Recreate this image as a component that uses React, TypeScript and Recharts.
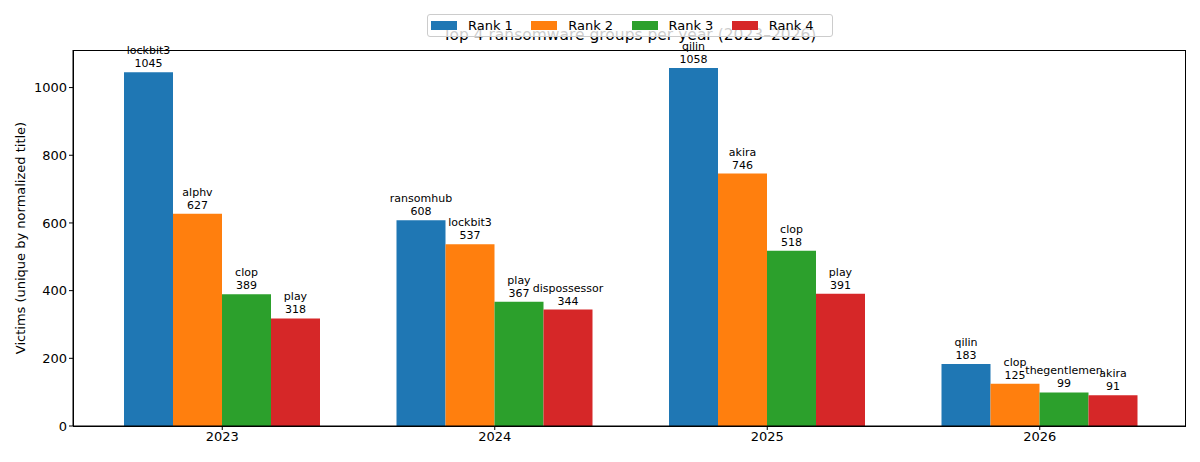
import React from "react";
import { Bar, BarChart, LabelList, XAxis, YAxis } from "recharts";

const years = ["2023", "2024", "2025", "2026"];
const rank1Names = ["lockbit3", "ransomhub", "qilin", "qilin"];
const rank1Values = [1045, 608, 1058, 183];
const rank2Names = ["alphv", "lockbit3", "akira", "clop"];
const rank2Values = [627, 537, 746, 125];
const rank3Names = ["clop", "play", "clop", "thegentlemen"];
const rank3Values = [389, 367, 518, 99];
const rank4Names = ["play", "dispossessor", "play", "akira"];
const rank4Values = [318, 344, 391, 91];
const yTicks = [0, 200, 400, 600, 800, 1000];

const FONT = "DejaVu Sans, sans-serif";

const ranks = [
  { key: "r1", label: "Rank 1", color: "#1f77b4", names: rank1Names, values: rank1Values },
  { key: "r2", label: "Rank 2", color: "#ff7f0e", names: rank2Names, values: rank2Values },
  { key: "r3", label: "Rank 3", color: "#2ca02c", names: rank3Names, values: rank3Values },
  { key: "r4", label: "Rank 4", color: "#d62728", names: rank4Names, values: rank4Values },
];

const data = years.map((year, i) => {
  const row: Record<string, string | number> = { year };
  ranks.forEach((r) => {
    row[r.key] = r.values[i];
  });
  return row;
});

// two-line label above each bar: group name, then count
const makeLabel = (names: string[]) => (props: any) => {
  const { x, y, width, value, index } = props;
  const cx = Number(x) + Number(width) / 2;
  return (
    <g>
      <text x={cx} y={Number(y) - 18} textAnchor="middle" fontSize={11} fill="#000" fontFamily={FONT}>
        {names[index]}
      </text>
      <text x={cx} y={Number(y) - 5} textAnchor="middle" fontSize={11} fill="#000" fontFamily={FONT}>
        {value}
      </text>
    </g>
  );
};

export default function App() {
  return (
    <div style={{ position: "absolute", left: 0, top: 0, width: 1200, height: 462, background: "#fff", fontFamily: FONT }}>
      <BarChart
        width={1200}
        height={462}
        data={data}
        margin={{ top: 50, right: 14, bottom: 0, left: 0 }}
        barGap={0}
        barSize={49}
      >
        <XAxis
          dataKey="year"
          height={36}
          padding={{ left: 13, right: 10 }}
          tickSize={4}
          tick={{ fontSize: 13, fill: "#000", fontFamily: FONT }}
          axisLine={{ stroke: "#000" }}
          tickLine={{ stroke: "#000" }}
        />
        <YAxis
          width={73}
          domain={[0, 1111]}
          ticks={yTicks}
          tickSize={4}
          tick={{ fontSize: 13, fill: "#000", fontFamily: FONT }}
          axisLine={{ stroke: "#000" }}
          tickLine={{ stroke: "#000" }}
          label={(p: any) => (
            <text
              x={20}
              y={238}
              transform="rotate(-90, 20, 238)"
              textAnchor="middle"
              dominantBaseline="central"
              fontSize={13}
              fill="#000"
              fontFamily={FONT}
            >
              Victims (unique by normalized title)
            </text>
          )}
        />
        {ranks.map((r) => (
          <Bar key={r.key} dataKey={r.key} name={r.label} fill={r.color} isAnimationActive={false}>
            <LabelList dataKey={r.key} content={makeLabel(r.names)} />
          </Bar>
        ))}
      </BarChart>

      {/* plot frame */}
      <div
        style={{
          position: "absolute",
          left: 73,
          top: 50,
          width: 1113,
          height: 377,
          border: "1px solid #000",
          boxSizing: "border-box",
          pointerEvents: "none",
        }}
      />

      {/* title */}
      <div
        style={{
          position: "absolute",
          left: 73,
          width: 1113,
          top: 26,
          textAlign: "center",
          fontSize: 15.5,
          color: "#000",
          lineHeight: "18px",
        }}
      >
        Top 4 ransomware groups per year (2023–2026)
      </div>

      {/* legend, drawn over the title like the original */}
      <div
        style={{
          position: "absolute",
          left: 427,
          top: 14,
          width: 406,
          height: 23,
          boxSizing: "border-box",
          background: "rgba(255,255,255,0.8)",
          border: "1px solid #ccc",
          borderRadius: 3,
          display: "flex",
          alignItems: "center",
          paddingLeft: 3,
        }}
      >
        {ranks.map((r) => (
          <div key={r.key} style={{ display: "flex", alignItems: "center", width: 106 }}>
            <span style={{ display: "inline-block", width: 26, height: 9, background: r.color, marginRight: 11 }} />
            <span style={{ fontSize: 13, color: "#000" }}>{r.label}</span>
          </div>
        ))}
      </div>
    </div>
  );
}
